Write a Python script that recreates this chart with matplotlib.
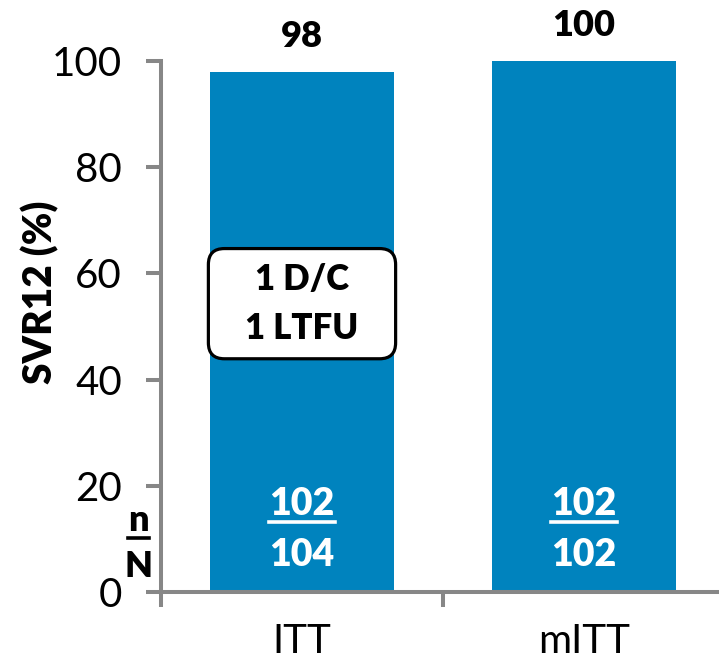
import matplotlib
matplotlib.use("Agg")
import matplotlib.pyplot as plt
from matplotlib.lines import Line2D
from matplotlib.patches import FancyBboxPatch

plt.rcParams['font.family'] = ['Lato', 'DejaVu Sans']

# data
categories = ['ITT', 'mITT']
svr12 = [98, 100]
n_vals = [102, 102]
N_vals = [104, 102]
note = '1 D/C\n1 LTFU'

bar_color = '#0083BE'
axis_gray = '#878787'

fig = plt.figure(figsize=(7.19, 6.62), dpi=100)
ax = fig.add_axes([161 / 719, 70 / 662, 564 / 719, 531 / 662])

x = list(range(len(categories)))
ax.bar(x, svr12, width=0.65, color=bar_color, zorder=2)

ax.set_xlim(-0.5, 1.5)
ax.set_ylim(0, 100)
ax.set_yticks(range(0, 101, 20))
ax.tick_params(axis='y', labelsize=29, length=11, width=2.9, color=axis_gray, pad=17)

# x ticks at category boundaries, labels centred
ax.set_xticks([-0.5, 0.5, 1.5])
ax.set_xticklabels([])
ax.set_xticks(x, minor=True)
ax.set_xticklabels(categories, minor=True, fontsize=29)
ax.tick_params(axis='x', which='major', length=11, width=2.9, color=axis_gray)
ax.tick_params(axis='x', which='minor', length=0, pad=22)

for s in ['top', 'right']:
    ax.spines[s].set_visible(False)
for s in ['left', 'bottom']:
    ax.spines[s].set_color(axis_gray)
    ax.spines[s].set_linewidth(2.9)
ax.spines['left'].set_bounds(0, 100)

ax.set_ylabel('SVR12 (%)', fontsize=28, fontweight='heavy')
ax.yaxis.set_label_coords(-0.18, 0.565)

# value labels
for xi, v in zip(x, svr12):
    ax.annotate(str(v), (xi, v), xytext=(0, 13.5), textcoords='offset points',
                ha='center', va='bottom', fontsize=26, fontweight='heavy')

# n / N inside bars
underlined = []
for xi, n, N in zip(x, n_vals, N_vals):
    t = ax.text(xi, 16.5, str(n), ha='center', va='center', color='white',
                fontsize=27, fontweight='heavy', zorder=3)
    underlined.append((t, 'white'))
    ax.text(xi, 7.0, str(N), ha='center', va='center', color='white',
            fontsize=27, fontweight='heavy', zorder=3)

tn = ax.text(-0.58, 13.4, 'n', ha='center', va='center', fontsize=26,
             fontweight='heavy', clip_on=False)
underlined.append((tn, 'black'))
ax.text(-0.58, 4.8, 'N', ha='center', va='center', fontsize=26,
        fontweight='heavy', clip_on=False)

# note
note_txt = ax.text(0, 54.3, note, ha='center', va='center', fontsize=25,
                   fontweight='heavy', linespacing=1.6, zorder=5)

fig.canvas.draw()
r = fig.canvas.get_renderer()

# rounded box behind the note, more padding left/right than top/bottom
bb = note_txt.get_window_extent(r)
padx, pady = 37, 14
box = FancyBboxPatch((bb.x0 - padx, bb.y0 - pady), bb.width + 2 * padx,
                     bb.height + 2 * pady, boxstyle='round,pad=0,rounding_size=16',
                     fc='white', ec='black', lw=2.3, transform=None, zorder=4,
                     clip_on=False)
ax.add_artist(box)

# underlines
for t, c in underlined:
    b = t.get_window_extent(r)
    yline = b.y0 - 1
    fig.add_artist(Line2D([b.x0, b.x1], [yline, yline], color=c, lw=2.6,
                          transform=None))

fig.savefig('out.png', dpi=100)
